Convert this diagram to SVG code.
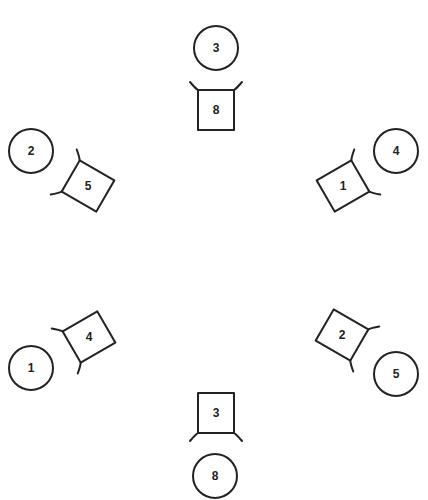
<svg xmlns="http://www.w3.org/2000/svg" width="428" height="500" viewBox="0 0 428 500">
<style>
.shape{fill:none;stroke:#222222;stroke-width:2;stroke-linecap:round;stroke-linejoin:round}
.lbl{font-family:"Liberation Sans",Arial,sans-serif;font-weight:bold;font-size:12px;fill:#222222;text-anchor:middle;dominant-baseline:central}
</style>
<defs>
<g id="desk">
<rect class="shape" x="-18" y="-20" width="36" height="40"/>
<path class="shape" d="M-26,-28 Q-21,-22 -18,-20 M26,-28 Q21,-22 18,-20"/>
</g>
</defs>
<rect width="428" height="500" fill="#ffffff"/>
<g id="connectors"/>
<g id="square-top"><use href="#desk" transform="translate(216,110)"/><text class="lbl" x="216" y="110">8</text></g>
<g id="circle-top"><circle class="shape" cx="216" cy="48" r="22"/><text class="lbl" x="216" y="48">3</text></g>
<g id="square-ul"><use href="#desk" transform="translate(88,186) rotate(-60)"/><text class="lbl" x="88" y="186">5</text></g>
<g id="circle-ul"><circle class="shape" cx="31" cy="151" r="22"/><text class="lbl" x="31" y="151">2</text></g>
<g id="square-ur"><use href="#desk" transform="translate(343,186) rotate(60)"/><text class="lbl" x="343" y="186">1</text></g>
<g id="circle-ur"><circle class="shape" cx="396" cy="151" r="22"/><text class="lbl" x="396" y="151">4</text></g>
<g id="square-ll"><use href="#desk" transform="translate(89,337) rotate(-120)"/><text class="lbl" x="89" y="337">4</text></g>
<g id="circle-ll"><circle class="shape" cx="31" cy="368" r="22"/><text class="lbl" x="31" y="368">1</text></g>
<g id="square-lr"><use href="#desk" transform="translate(342,335) rotate(120)"/><text class="lbl" x="342" y="335">2</text></g>
<g id="circle-lr"><circle class="shape" cx="396" cy="374" r="22"/><text class="lbl" x="396" y="374">5</text></g>
<g id="square-bottom"><use href="#desk" transform="translate(216,413) rotate(180)"/><text class="lbl" x="216" y="413">3</text></g>
<g id="circle-bottom"><circle class="shape" cx="215" cy="476" r="22"/><text class="lbl" x="215" y="476">8</text></g>
</svg>
